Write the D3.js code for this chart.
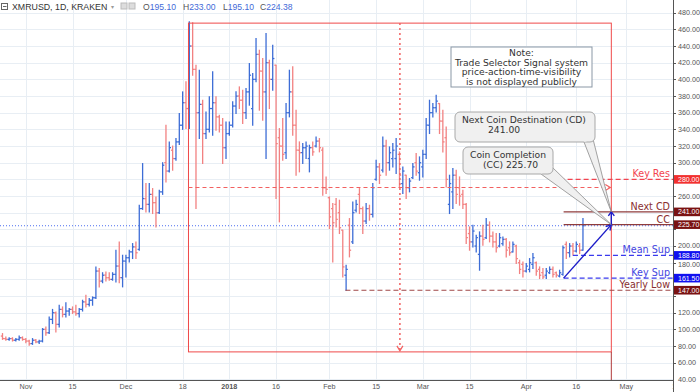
<!DOCTYPE html>
<html><head><meta charset="utf-8">
<script src="https://cdn.jsdelivr.net/npm/d3@7"></script>
<style>body{margin:0;background:#fff;overflow:hidden}svg{display:block}</style>
</head><body>
<svg id="c" width="700" height="392"></svg>
<script>
// ---------- DATA ----------
const symbol = "XMRUSD, 1D, KRAKEN";
const startDate = "2017-10-25";
const missingDate = "2018-01-11";
const open  = [92,89,88,89,87,88,90,88,86,83,87,85,86,100,96,112,120,106,124,118,122,124,121,119,124,133,130,135,138,170,158,165,162,160,166,176,162,182,186,193,199,196,245,257,250,262,252,240,265,300,290,315,305,325,345,372,365,440,412,360,370,335,340,365,372,355,345,318,335,345,368,380,375,360,385,365,400,430,410,385,420,400,417,330,320,312,360,385,345,315,312,318,305,318,320,326,315,270,258,245,250,240,219,165,225,205,243,262,245,230,245,238,280,295,291,320,300,305,305,310,275,285,270,282,300,288,295,310,345,360,366,371,350,330,250,265,285,270,262,250,215,205,200,190,212,210,225,212,205,200,203,208,198,193,200,180,178,170,172,178,180,172,168,165,168,172,168,164,166,202,192,200,194,200,195.1];
const high  = [95,91,90,90,89,92,91,89,87,89,88,87,101,103,115,124,121,129,127,132,125,127,129,125,135,141,137,139,175,173,168,169,168,168,195,205,189,189,195,203,205,249,299,275,275,269,259,267,300,345,325,320,329,359,385,397,469,468,417,411,375,361,379,409,379,357,353,349,349,373,385,391,387,389,419,407,449,435,425,455,423,441,417,341,353,371,411,415,363,325,323,325,321,325,331,329,318,283,259,251,257,255,219,177,233,253,255,269,247,251,249,275,303,299,331,327,319,323,329,313,295,285,281,299,311,307,315,353,375,371,381,371,363,343,285,293,291,283,267,251,223,225,213,217,225,233,229,217,215,215,211,209,205,205,201,183,181,179,185,191,181,175,173,173,175,175,169,171,200,205,203,203,205,203,233];
const low   = [88,87,87,86,86,87,87,84,81,82,84,83,85,93,95,107,97,103,115,115,117,119,117,115,122,127,128,129,137,151,156,158,159,159,157,156,151,163,181,185,185,195,244,241,241,239,223,239,262,277,289,291,303,322,340,341,341,405,245,329,299,329,337,333,339,337,299,305,333,343,359,365,347,353,369,345,397,363,351,305,365,387,257,229,303,305,355,333,285,289,299,305,289,309,319,313,261,263,221,181,223,215,163,147,187,203,241,239,215,227,231,235,279,275,289,285,291,295,287,271,263,257,265,281,285,279,283,305,335,355,361,335,313,271,239,245,251,249,245,203,195,199,193,171,201,209,205,199,193,199,201,187,189,193,179,167,163,169,169,173,165,161,161,161,167,163,163,163,165,185,187,189,193,191,195.1];
const close = [89,88,89,87,88,90,88,86,83,87,85,86,100,96,112,120,106,124,118,122,124,121,119,124,133,130,135,138,170,158,165,162,160,166,176,162,182,186,193,199,192,245,257,250,262,252,240,265,297,290,318,305,325,345,372,365,440,412,360,370,335,340,365,372,355,345,318,335,345,368,380,375,360,385,405,400,430,410,385,420,400,425,323,320,310,360,385,345,315,312,318,320,318,313,326,318,270,268,235,228,232,222,175,172,195,240,250,245,230,245,238,270,295,285,320,300,312,315,320,285,290,270,278,295,290,300,310,345,360,366,374,350,325,280,275,285,262,260,250,210,205,218,210,212,208,225,212,205,198,210,208,195,192,202,185,172,170,176,180,186,170,165,163,170,172,166,165,168,198,192,200,194,202,195,224.38];
const tickDates  = ["2017-11-01","2017-11-15","2017-12-01","2017-12-18","2018-01-01","2018-01-16","2018-02-01","2018-02-15","2018-03-01","2018-03-15","2018-04-01","2018-04-16","2018-05-01","2018-05-16"];
const tickLabels = ["Nov","15","Dec","18","2018","16","Feb","15","Mar","15","Apr","16","May","16"];
const priceTicks = d3.range(40, 481, 20);
const levelNames  = ["Key Res","Next CD","CC","Mean Sup","Key Sup","Yearly Low"];
const levelValues = [280, 241, 225.7, 188.8, 161.5, 147];
const lastPrice = 224.38;
const headerKeys = ["O","H","L","C"];
const headerVals = ["195.10","233.00","195.10","224.38"];
const noteLines = ["Note:","Trade Selector Signal system","price-action-time-visibility","is not displayed publicly"];
const cdLines = ["Next Coin Destination (CD)","241.00"];
const ccLines = ["Coin Completion","(CC) 225.70"];

// ---------- LAYOUT / STYLE ----------
const W = 700, H = 392, plotR = 673, plotB = 380;
const up = "#3d6dd6", down = "#f28181";
const levelStyle = [
  {color:"#f2444f", text:"#f2444f", bg:"#f2302f", dash:"5,3", fromIdx:167},
  {color:"#8f3c3c", text:"#8a2f2f", bg:"#7a1212", dash:null, fromIdx:168.2},
  {color:"#8f3c3c", text:"#8a2f2f", bg:"#7a1212", dash:null, fromIdx:168.2},
  {color:"#3a3aee", text:"#4444e0", bg:"#1010f0", dash:"5,3", fromIdx:171},
  {color:"#3a3aee", text:"#4444e0", bg:"#1010f0", dash:"5,3", fromIdx:168.2},
  {color:"#a04848", text:"#8a2f2f", bg:"#7a1212", dash:"5,3", fromIdx:102.8}
];

const parse = d3.timeParse("%Y-%m-%d");
const t0 = parse(startDate), tGap = parse(missingDate);
function dateToIndex(s){ const d = parse(s); let n = d3.timeDay.count(t0, d); if (d > tGap) n -= 1; return n; }

const x = d3.scaleLinear().domain([0, 200]).range([2.5, 2.5 + 200*3.336]);
const y = d3.scaleLinear().domain([40, 480]).range([379.4, 12.7]);

const svg = d3.select("#c");
svg.append("rect").attr("width",W).attr("height",H).attr("fill","#fff");
const font = "'Liberation Sans', Arial, sans-serif";
const dfont = "'DejaVu Sans', Verdana, sans-serif";

svg.append("clipPath").attr("id","pc").append("rect").attr("x",0).attr("y",0).attr("width",plotR).attr("height",plotB);
const plot = svg.append("g").attr("clip-path","url(#pc)");

// grid
plot.append("g").selectAll("line").data(priceTicks).join("line")
  .attr("x1",0).attr("x2",plotR).attr("y1",d=>Math.round(y(d))+0.5).attr("y2",d=>Math.round(y(d))+0.5)
  .attr("stroke","#e8eef4").attr("stroke-width",1);
plot.append("g").selectAll("line").data(tickDates).join("line")
  .attr("x1",d=>Math.round(x(dateToIndex(d)))+0.5).attr("x2",d=>Math.round(x(dateToIndex(d)))+0.5)
  .attr("y1",0).attr("y2",plotB).attr("stroke","#e8eef4").attr("stroke-width",1);

// last price dotted line
plot.append("line").attr("x1",0).attr("x2",plotR).attr("y1",y(lastPrice)).attr("y2",y(lastPrice))
  .attr("stroke","#4d6ef0").attr("stroke-width",1).attr("stroke-dasharray","1,2");

// bars
const bars = plot.append("g");
open.forEach((o,i)=>{
  const c = close[i], col = c >= o ? up : down, xi = x(i);
  const g = bars.append("g").attr("stroke",col).attr("stroke-width",1.3);
  g.append("line").attr("x1",xi).attr("x2",xi).attr("y1",y(high[i])-0.5).attr("y2",y(low[i])+0.5);
  g.append("line").attr("x1",xi-1.7).attr("x2",xi).attr("y1",y(o)).attr("y2",y(o));
  g.append("line").attr("x1",xi).attr("x2",xi+1.7).attr("y1",y(c)).attr("y2",y(c));
});

// Date & price range rectangle (anchors in data units)
const rng = {i0:55.75, i1:182.5, p0:467.5, p1:73};
const rx0 = x(rng.i0), rx1 = x(rng.i1), ry0 = y(rng.p0), ry1 = y(rng.p1);
const rcol = "#ef4a4a";
plot.append("rect").attr("x",rx0).attr("y",ry0).attr("width",rx1-rx0).attr("height",ry1-ry0)
  .attr("fill","none").attr("stroke",rcol).attr("stroke-width",1);
plot.append("line").attr("x1",rx1).attr("x2",rx1).attr("y1",ry1).attr("y2",plotB).attr("stroke","#b03a3a").attr("stroke-width",1);
const mx = (rx0+rx1)/2, my = (ry0+ry1)/2;
plot.append("line").attr("x1",rx0).attr("x2",rx1-1).attr("y1",my).attr("y2",my)
  .attr("stroke","#f26060").attr("stroke-width",1.2).attr("stroke-dasharray","4,3");
plot.append("path").attr("d",`M${rx1-6},${my-3}L${rx1-1},${my}L${rx1-6},${my+3}`).attr("fill","none").attr("stroke","#f26060").attr("stroke-width",1.2);
plot.append("line").attr("x1",mx).attr("x2",mx).attr("y1",ry0).attr("y2",ry1-1)
  .attr("stroke","#f26060").attr("stroke-width",1.5).attr("stroke-dasharray","2,3");
plot.append("path").attr("d",`M${mx-3},${ry1-6}L${mx},${ry1-1}L${mx+3},${ry1-6}`).attr("fill","none").attr("stroke","#f26060").attr("stroke-width",1.2);

// levels
levelValues.forEach((v,k)=>{
  const s = levelStyle[k], yy = y(v);
  const ln = plot.append("line").attr("x1",x(s.fromIdx)).attr("x2",plotR).attr("y1",yy).attr("y2",yy)
    .attr("stroke",s.color).attr("stroke-width",1.2);
  if (s.dash) ln.attr("stroke-dasharray",s.dash);
  plot.append("text").attr("x",670).attr("y",yy-2).attr("text-anchor","end")
    .attr("font-family",dfont).attr("font-size",9.6).attr("fill",s.text).text(levelNames[k]);
});

// blue arrows
const arr = {iA:168.2, pA:161.5, iB:182.5, pB:225.7, pC:241};
const ax = x(arr.iA), ay = y(arr.pA), bx = x(arr.iB), by = y(arr.pB), cy = y(arr.pC);
const acol = "#1c1cc8";
plot.append("line").attr("x1",ax).attr("y1",ay).attr("x2",bx).attr("y2",by).attr("stroke",acol).attr("stroke-width",1.4);
(function(){ const ang = Math.atan2(by-ay,bx-ax), L=6, a=0.5;
  plot.append("path").attr("d",`M${bx-L*Math.cos(ang-a)},${by-L*Math.sin(ang-a)}L${bx},${by}L${bx-L*Math.cos(ang+a)},${by-L*Math.sin(ang+a)}`)
   .attr("fill","none").attr("stroke",acol).attr("stroke-width",1.4);})();
plot.append("line").attr("x1",bx).attr("y1",by).attr("x2",bx).attr("y2",cy).attr("stroke",acol).attr("stroke-width",1.4);
plot.append("path").attr("d",`M${bx-3},${cy+4}L${bx},${cy}L${bx+3},${cy+4}`).attr("fill","none").attr("stroke",acol).attr("stroke-width",1.4);

// callouts
function callout(bx0,by0,bw,bh,tailA,tailB,tx,ty,lines,offs){
  plot.append("path").attr("d",`M${tailA[0]},${tailA[1]}L${tx},${ty}L${tailB[0]},${tailB[1]}`)
    .attr("fill","#f0f0f0").attr("stroke","#8c8c8c").attr("stroke-width",0.8);
  plot.append("rect").attr("x",bx0).attr("y",by0).attr("width",bw).attr("height",bh).attr("rx",5)
    .attr("fill","#f0f0f0").attr("stroke","#a8a8a8").attr("stroke-width",1);
  plot.append("path").attr("d",`M${tailA[0]},${tailA[1]-1}L${tailB[0]},${tailB[1]-1}`).attr("stroke","#f0f0f0").attr("stroke-width",2);
  lines.forEach((l,j)=>plot.append("text").attr("x",bx0+offs[j]).attr("y",by0+11+j*9.5)
    .attr("font-family",dfont).attr("font-size",9.2).attr("fill","#333").text(l));
}
callout(455,112,140,30,[584,142],[593,139],bx,cy,cdLines,[7,33]);
callout(463,147,90,27,[541,174],[552,167],bx,by,ccLines,[7,20]);

// note box
plot.append("rect").attr("x",451).attr("y",47).attr("width",141).attr("height",40)
  .attr("fill","#fff").attr("stroke","#8a97a5").attr("stroke-width",1);
noteLines.forEach((l,j)=>plot.append("text").attr("x",521.5).attr("y",56+j*9.6).attr("text-anchor","middle")
  .attr("font-family",dfont).attr("font-size",9.2).attr("fill","#333").text(l));

// axes
svg.append("line").attr("x1",plotR+0.5).attr("x2",plotR+0.5).attr("y1",0).attr("y2",plotB).attr("stroke","#555");
const ya = svg.append("g");
priceTicks.forEach(p=>{
  const yy = y(p);
  if (yy > plotB-2) return;
  ya.append("line").attr("x1",plotR).attr("x2",plotR+3).attr("y1",Math.round(yy)+0.5).attr("y2",Math.round(yy)+0.5).attr("stroke","#555");
  if (levelValues.some(v=>Math.abs(y(v)-yy) < 7)) return;
  let dy = 0;
  levelValues.forEach(v=>{ const d = yy - y(v); if (Math.abs(d) < 9.5) dy += (d>0?1:-1)*(9.5-Math.abs(d))*0.6; });
  ya.append("text").attr("x",678).attr("y",yy+2.5+dy).attr("font-family",font).attr("font-size",7.2).attr("fill","#555").text(p.toFixed(2));
});
svg.append("rect").attr("x",0).attr("y",plotB+1).attr("width",W).attr("height",H-plotB).attr("fill","#fff");
svg.append("text").attr("x",678).attr("y",y(40)+2.5).attr("font-family",font).attr("font-size",7.2).attr("fill","#555").text("40.00");
svg.append("rect").attr("x",0).attr("y",plotB+1).attr("width",plotR).attr("height",H-plotB).attr("fill","#fff");
svg.append("line").attr("x1",0).attr("x2",plotR+0.5).attr("y1",plotB+0.5).attr("y2",plotB+0.5).attr("stroke","#555");
svg.append("line").attr("x1",plotR+0.5).attr("x2",plotR+0.5).attr("y1",plotB).attr("y2",H).attr("stroke","#555");
svg.append("clipPath").attr("id","xc").append("rect").attr("x",0).attr("y",plotB).attr("width",plotR).attr("height",20);
const xa = svg.append("g").attr("clip-path","url(#xc)");
tickDates.forEach((d,k)=>{
  xa.append("text").attr("x",x(dateToIndex(d))).attr("y",388.5).attr("text-anchor","middle")
    .attr("font-family",font).attr("font-size",7.2).attr("fill","#555")
    .attr("font-weight",tickLabels[k]==="2018"?"bold":"normal").text(tickLabels[k]);
});

// axis value labels
function axisLabel(v,bg){
  const yy = y(v);
  svg.append("rect").attr("x",plotR+1).attr("y",yy-4.3).attr("width",W-plotR-1).attr("height",8.6).attr("fill",bg);
  svg.append("text").attr("x",678).attr("y",yy+2.4).attr("font-family",font).attr("font-size",7).attr("fill","#fff").text(v.toFixed(2));
}
levelValues.forEach((v,k)=>axisLabel(v,levelStyle[k].bg));

// header
const hd = svg.append("g");
hd.append("rect").attr("x",1.5).attr("y",3.5).attr("width",6).attr("height",6).attr("fill","#fff").attr("stroke","#666");
hd.append("line").attr("x1",3).attr("x2",6.5).attr("y1",6.5).attr("y2",6.5).attr("stroke","#666");
hd.append("text").attr("x",12).attr("y",9.5).attr("font-family",font).attr("font-size",8.8).attr("fill","#333").text(symbol);
hd.append("text").attr("x",111).attr("y",9).attr("font-family",font).attr("font-size",6).attr("fill","#999").text("▾");
hd.append("rect").attr("x",121).attr("y",3).attr("width",6).attr("height",6).attr("fill","#ddd").attr("stroke","#bbb");
hd.append("rect").attr("x",129).attr("y",3).attr("width",6).attr("height",6).attr("fill","#ddd").attr("stroke","#bbb");
const hx = [143,183,223,260];
headerKeys.forEach((k,j)=>{
  const t = hd.append("text").attr("x",hx[j]).attr("y",9.5).attr("font-family",font).attr("font-size",8.6);
  t.append("tspan").attr("fill","#555").text(k);
  t.append("tspan").attr("fill","#3f6ad8").text(headerVals[j]);
});
</script>
</body></html>
